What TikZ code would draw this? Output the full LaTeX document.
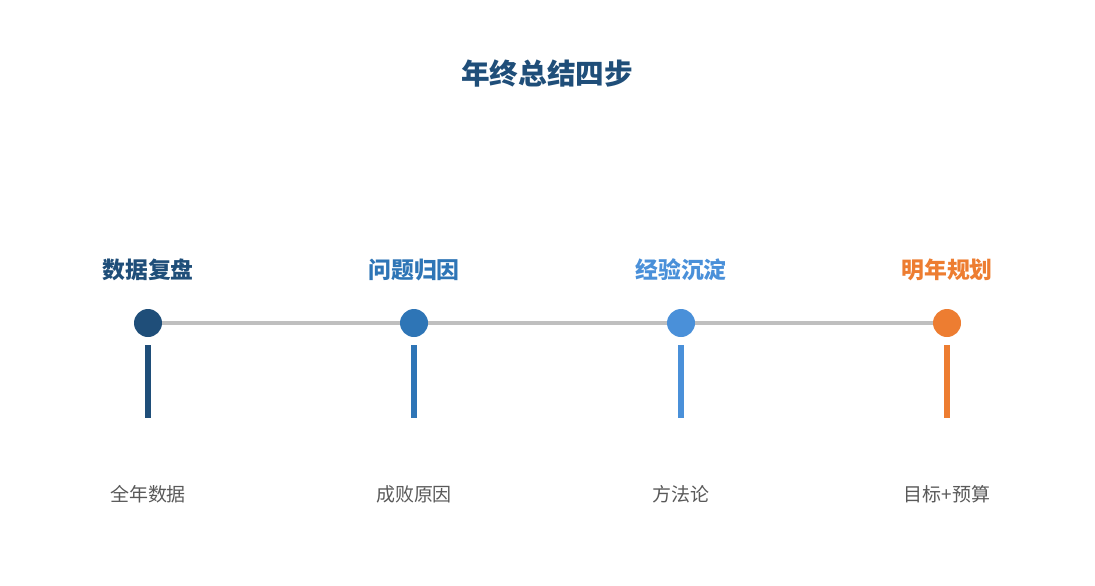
\documentclass[tikz,border=0pt]{standalone}
\usepackage{fontspec}
\setmainfont{Noto Sans CJK SC}
\usetikzlibrary{arrows.meta}
\definecolor{stepA}{HTML}{1F4E79}
\definecolor{stepB}{HTML}{2E75B6}
\definecolor{stepC}{HTML}{4A90D9}
\definecolor{stepD}{HTML}{ED7D31}
\definecolor{linegray}{HTML}{BFBFBF}
\definecolor{textgray}{HTML}{595959}
\begin{document}
\begin{tikzpicture}[x=0.02cm, y=-0.02cm,
    dot/.style={circle, fill=#1, minimum size=0.56cm, inner sep=0pt},
    steptitle/.style={font=\fontsize{13}{15}\selectfont\bfseries, text=#1},
    stepnote/.style={font=\fontsize{10.8}{13}\selectfont, text=textgray},
    stem/.style={line width=4pt*0.75, draw=#1},
    flow/.style={draw=linegray, line width=2.2pt, -{Stealth[length=6pt,width=7pt]}}]

    \useasboundingbox (0,0) rectangle (1095,585);

    % Title
    \node (title) [font=\fontsize{16.3}{19}\selectfont\bfseries, text=stepA] at (547,74) {年终总结四步};

    % Steps
    \foreach \name/\x/\col/\head/\note in {a/148/stepA/数据复盘/全年数据, b/414/stepB/问题归因/成败原因, c/681/stepC/经验沉淀/方法论, d/947/stepD/明年规划/目标+预算} {
        \node (head\name) [steptitle=\col] at (\x,270) {\head};
        \node (note\name) [stepnote] at (\x,494) {\note};
        \coordinate (top\name) at (\x,345);
        \coordinate (bot\name) at (\x,418);
        \draw[stem=\col] (top\name) -- (bot\name);
    }

    % Arrows
    \draw[flow] (148,323) -- (414,323);
    \draw[flow] (414,323) -- (681,323);
    \draw[flow] (681,323) -- (947,323);

    % Dots
    \node (dota) [dot=stepA] at (148,323) {};
    \node (dotb) [dot=stepB] at (414,323) {};
    \node (dotc) [dot=stepC] at (681,323) {};
    \node (dotd) [dot=stepD] at (947,323) {};
\end{tikzpicture}
\end{document}
